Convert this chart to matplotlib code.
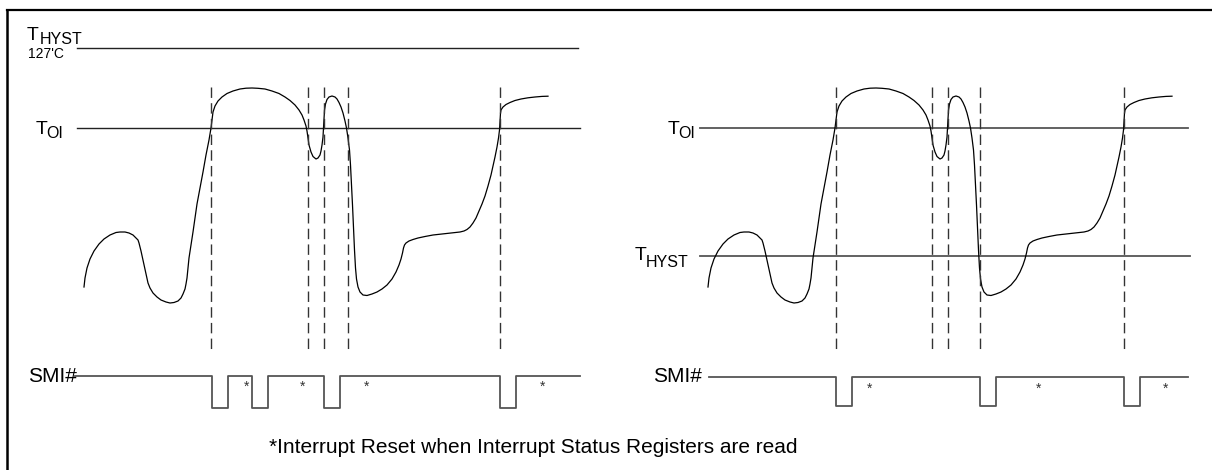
import matplotlib
matplotlib.use("Agg")
import matplotlib.pyplot as plt
import numpy as np

plt.rcParams['font.family'] = ['Liberation Sans', 'DejaVu Sans']

# ---- data (drawing units: horizontal time, vertical level; y grows downward) ----
curve_x = [84, 85, 87, 90, 94, 99, 104, 110, 116, 120, 125, 129, 133, 136, 138, 139,
           141, 143, 145, 147, 148, 150, 153, 157, 161, 166, 170, 174, 178, 181, 183, 185, 186, 187,
           188, 189, 191, 193, 195, 197, 200, 203, 206, 209, 211, 212, 213,
           215, 218, 222, 227, 233, 240, 246, 252, 258, 265, 272, 279, 285, 290, 295, 299, 302, 304,
           306, 307, 308, 309, 311, 313, 316, 318, 320, 321, 322, 323, 323.5, 324, 324.5, 325.5, 327,
           329, 332, 335, 337, 339, 341, 343, 345, 346.5, 348, 349.5, 350.5, 351.5, 352.5, 353.5,
           354.5, 355.5, 356.5, 358, 360, 363, 367, 372, 377, 382, 387, 392, 396, 399, 401, 402.5,
           403.5, 404.5,
           406, 409, 413, 418, 425, 433, 442, 452, 460, 464, 467, 470, 473, 476, 479, 482, 485, 488,
           491, 493, 495, 497, 498.5, 499.5, 500, 500.5, 501, 503, 506, 510, 515, 521, 528, 535, 542, 548]
curve_y = [287, 278, 268, 259, 251, 244, 239, 235, 232.5, 232, 232, 233, 235, 238, 240, 243,
           251, 260, 269, 278, 283, 288, 293, 297, 300, 302, 303, 302.5, 301, 298, 294, 289, 284, 278,
           268, 258, 245, 232, 218, 204, 188, 172, 155, 140, 128, 120, 112,
           106, 101, 97, 93.5, 91, 89, 88.2, 88, 88.3, 89, 91, 93.5, 97, 100.5, 105, 110, 115, 120,
           126, 131, 138, 145, 152, 156.5, 159, 158, 155, 151, 145, 137, 128, 118, 110, 104, 99.5,
           97, 96, 97, 99, 102.5, 107, 113, 121, 128, 138, 150, 165, 185, 205, 228,
           250, 268, 279, 287, 292, 295, 295.5, 294, 292, 289, 285, 279, 272, 265, 259, 253,
           248, 245,
           243, 241, 239.5, 238, 236.5, 235, 234, 233, 232, 231, 229.5, 227, 223, 218, 211, 204, 196, 186,
           175, 166, 157, 147, 138, 130, 122, 113, 110, 107, 104.5, 102.5, 100.5, 99, 97.8, 97, 96.4, 96.2]
right_shift = 624

dash_left = [211, 308, 324, 348, 500]
dash_right = [836, 932, 948, 980, 1124]
dash_top, dash_bottom = 87, 352

toi_level = 128
thyst_left_level = 48
thyst_right_level = 256

smi_left_pulses = [212, 252, 324, 500]
smi_right_pulses = [836, 980, 1124]
pulse_width = 16
smi_left_stars = [247, 303, 367, 543]
smi_right_stars = [870, 1039, 1166]

footnote = "*Interrupt Reset when Interrupt Status Registers are read"

# ---- figure ----
fig = plt.figure(figsize=(12.12, 4.70), dpi=100)
ax = fig.add_axes([0, 0, 1, 1])
ax.set_xlim(0, 1212)
ax.set_ylim(470, 0)
ax.axis('off')

# frame (left and top edges visible)
ax.plot([7, 7], [470, 10], color='black', lw=1.8, solid_capstyle='projecting')
ax.plot([7, 1212], [10, 10], color='black', lw=1.6, solid_capstyle='projecting')

# threshold lines
ax.plot([77, 578], [thyst_left_level] * 2, color='#222222', lw=1.0)
ax.plot([77, 580], [toi_level] * 2, color='#222222', lw=1.0)
ax.plot([700, 1188], [toi_level] * 2, color='#555555', lw=1.3)
ax.plot([700, 1190], [thyst_right_level] * 2, color='#555555', lw=1.3)

# temperature curves
cx = np.array(curve_x, dtype=float)
cy = np.array(curve_y, dtype=float)
ax.plot(cx, cy, color='black', lw=0.9, solid_joinstyle='round')
ax.plot(cx + right_shift, cy, color='black', lw=0.9, solid_joinstyle='round')

# dashed event markers
for xv in dash_left + dash_right:
    ax.plot([xv, xv], [dash_top, dash_bottom], color='#333333', lw=1.0,
            linestyle=(0, (7.5, 3.8)))


def smi_wave(x0, x1, pulses, hi, lo):
    xs, ys = [x0], [hi]
    for p in pulses:
        xs += [p, p, p + pulse_width, p + pulse_width]
        ys += [hi, lo, lo, hi]
    xs.append(x1)
    ys.append(hi)
    return xs, ys


sx, sy = smi_wave(75, 580, smi_left_pulses, 376, 408)
ax.plot(sx, sy, color='#555555', lw=1.3)
sx, sy = smi_wave(709, 1188, smi_right_pulses, 377, 406)
ax.plot(sx, sy, color='#555555', lw=1.3)

for xv in smi_left_stars:
    ax.text(xv, 391, '*', fontsize=10, ha='center', va='baseline', color='#333333')
for xv in smi_right_stars:
    ax.text(xv, 393, '*', fontsize=10, ha='center', va='baseline', color='#333333')

# labels
txt = dict(color='black', va='baseline')
# left T_HYST / 127'C
ax.text(27, 40, 'T', fontsize=14, ha='left', **txt)
ax.text(39.5, 43.5, 'HYST', fontsize=11.5, ha='left', **txt)
ax.text(28, 58, "127'C", fontsize=10, ha='left', **txt)
# left T_OI
ax.text(36, 133.5, 'T', fontsize=14, ha='left', **txt)
ax.text(46, 137.5, 'OI', fontsize=11.5, ha='left', **txt)
# right T_OI
ax.text(668, 134, 'T', fontsize=14, ha='left', **txt)
ax.text(678, 138, 'OI', fontsize=11.5, ha='left', **txt)
# right T_HYST
ax.text(635, 260, 'T', fontsize=14, ha='left', **txt)
ax.text(646, 267, 'HYST', fontsize=11.5, ha='left', **txt)
# SMI#
ax.text(28, 382, 'SMI#', fontsize=15, ha='left', **txt)
ax.text(653, 382.5, 'SMI#', fontsize=15, ha='left', **txt)
# footnote
ax.text(269, 453, footnote, fontsize=15, ha='left', **txt)

fig.savefig('out.png', dpi=100)
